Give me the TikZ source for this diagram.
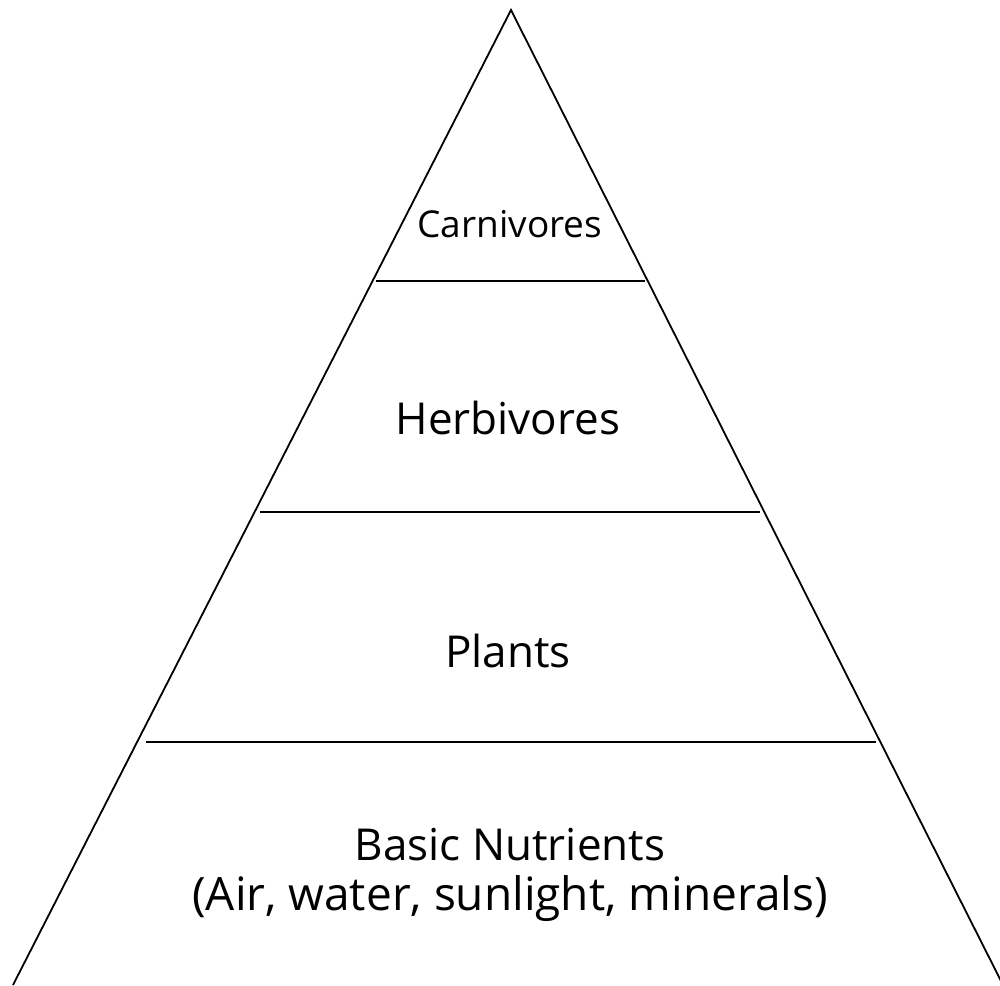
\documentclass[tikz,border=0pt]{standalone}
\usepackage{fontspec}
\setmainfont{Open Sans}
\begin{document}
\begin{tikzpicture}[x=1pt,y=-1pt,
  edge/.style={line width=1.8pt,black},
  lbl/.style={anchor=base,inner sep=0pt,font=\fontsize{44}{50}\selectfont},
  wide/.style={anchor=base,inner sep=0pt,font=\fontsize{46}{50}\selectfont},
  small/.style={anchor=base,inner sep=0pt,font=\fontsize{37}{42}\selectfont}]
\useasboundingbox (0,0) rectangle (1000,985);
\coordinate (apex) at (511,10);
\coordinate (bl) at (13,985);
\coordinate (br) at (1003,985);
\draw[edge,line join=miter] (bl) -- (apex) -- (br);
\coordinate (l1a) at (376,281); \coordinate (l1b) at (645,281);
\coordinate (l2a) at (260,512); \coordinate (l2b) at (760,512);
\coordinate (l3a) at (146,742); \coordinate (l3b) at (876,742);
\draw[edge] (l1a) -- (l1b);
\draw[edge] (l2a) -- (l2b);
\draw[edge] (l3a) -- (l3b);
\node[small] (carn) at (510,237) {Carnivores};
\node[lbl] (herb) at (508,434) {Herbivores};
\node[lbl] (plants) at (508,667) {Plants};
\node[lbl] (basic) at (510,860) {Basic Nutrients};
\node[wide] (air) at (510,910) {(Air, water, sunlight, minerals)};
\end{tikzpicture}
\end{document}
